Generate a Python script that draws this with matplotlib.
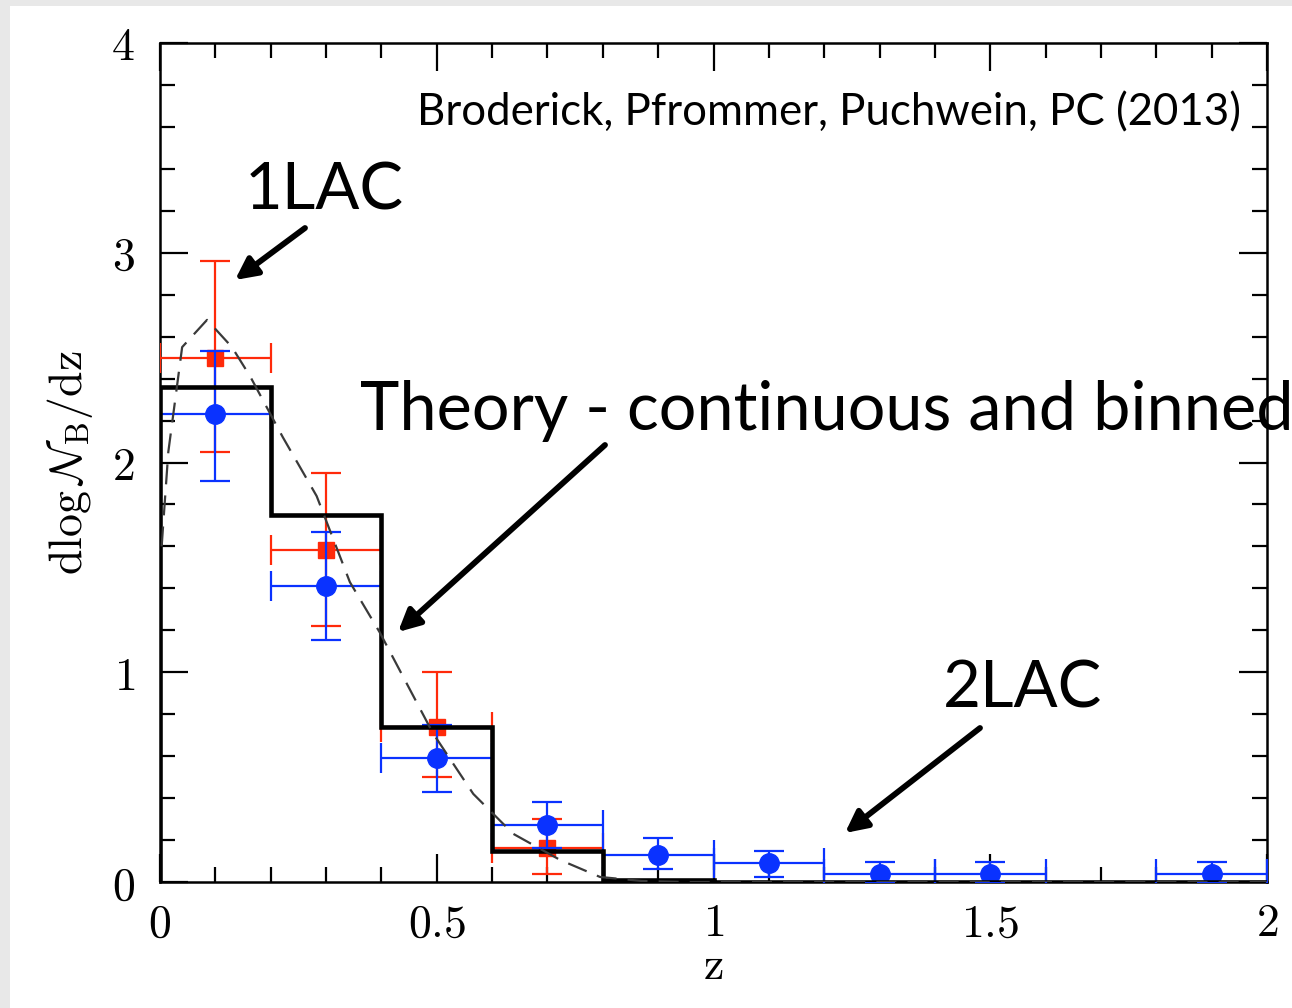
import numpy as np
import matplotlib
matplotlib.use('Agg')
import matplotlib.pyplot as plt
from matplotlib.patches import Rectangle
from matplotlib.ticker import MultipleLocator, FuncFormatter

plt.rcParams['mathtext.fontset'] = 'cm'

# 1LAC (red squares)
z_1lac = [0.1, 0.3, 0.5, 0.7]
n_1lac = [2.50, 1.585, 0.74, 0.16]
lo_1lac = [2.05, 1.22, 0.50, 0.04]
hi_1lac = [2.96, 1.95, 1.00, 0.30]

# 2LAC (blue circles)
z_2lac = [0.1, 0.3, 0.5, 0.7, 0.9, 1.1, 1.3, 1.5, 1.9]
n_2lac = [2.23, 1.41, 0.59, 0.27, 0.13, 0.09, 0.04, 0.04, 0.04]
lo_2lac = [1.91, 1.155, 0.43, 0.16, 0.06, 0.025, 0.0, 0.0, 0.0]
hi_2lac = [2.53, 1.67, 0.75, 0.38, 0.21, 0.15, 0.095, 0.095, 0.095]
zbin_half = 0.1

# binned theory
bin_edges = [0.0, 0.2, 0.4, 0.6, 0.8, 1.0, 2.0]
bin_vals = [2.36, 1.75, 0.74, 0.15, 0.01, 0.0]

# continuous theory (dashed)
z_cont = [0.003, 0.015, 0.04, 0.085, 0.13, 0.163, 0.222, 0.283, 0.343, 0.397,
          0.493, 0.566, 0.638, 0.723, 0.795, 0.87, 0.95, 1.05, 1.2, 1.5, 2.0]
n_cont = [1.60, 2.05, 2.55, 2.68, 2.55, 2.41, 2.12, 1.84, 1.43, 1.19,
          0.71, 0.42, 0.23, 0.105, 0.024, 0.005, 0.0, 0.0, 0.0, 0.0, 0.0]

W, H = 1292, 1008
fig = plt.figure(figsize=(W / 100, H / 100), dpi=100)
fig.patch.set_facecolor('#e8e8e8')
fig.patches.append(Rectangle((10 / W, 0), 1, 1 - 6 / H, transform=fig.transFigure,
                             facecolor='white', edgecolor='none', zorder=-10))

ax = fig.add_axes([160 / W, 1 - 882 / H, (1267 - 160) / W, (882 - 43) / H])

def px(x, y):
    return (x / W, 1 - y / H)

n1 = np.array(n_1lac)
ax.errorbar(z_1lac, n_1lac, xerr=zbin_half,
            yerr=[n1 - np.array(lo_1lac), np.array(hi_1lac) - n1],
            fmt='s', color='#ff2a0a', ms=11, elinewidth=1.6, capsize=11, capthick=1.6, zorder=3)
n2 = np.array(n_2lac)
ax.errorbar(z_2lac, n_2lac, xerr=zbin_half,
            yerr=[n2 - np.array(lo_2lac), np.array(hi_2lac) - n2],
            fmt='o', color='#0a32ff', ms=14, elinewidth=1.6, capsize=11, capthick=1.6, zorder=4)

ax.stairs(bin_vals, bin_edges, color='black', lw=3.3, zorder=5)
ax.plot(z_cont, n_cont, color='#3a3a3a', lw=1.6, dashes=(9, 5), zorder=6)

ax.set_xlim(0, 2)
ax.set_ylim(0, 4)
ax.xaxis.set_major_locator(MultipleLocator(0.5))
ax.xaxis.set_minor_locator(MultipleLocator(0.1))
ax.yaxis.set_major_locator(MultipleLocator(1))
ax.yaxis.set_minor_locator(MultipleLocator(0.2))
ax.xaxis.set_major_formatter(FuncFormatter(lambda v, p: '$%g$' % v))
ax.yaxis.set_major_formatter(FuncFormatter(lambda v, p: '$%g$' % v))
ax.tick_params(which='both', direction='in', top=True, right=True, width=1.6, labelsize=33)
ax.tick_params(which='major', length=20)
ax.tick_params(axis='x', which='major', pad=14)
ax.tick_params(axis='y', which='major', pad=18)
ax.tick_params(which='minor', length=11)
for s in ax.spines.values():
    s.set_linewidth(1.8)

ax.set_xlabel(r'$\mathrm{z}$', fontsize=33, labelpad=-2)
ax.set_ylabel(r'$\mathrm{d}\log\mathcal{N}_\mathrm{B}/\mathrm{dz}$', fontsize=33, labelpad=12)

tf = dict(family=['Lato', 'DejaVu Sans'], color='black')
fig.text(*px(417, 125), 'Broderick, Pfrommer, Puchwein, PC (2013)', fontsize=31.5, **tf)
fig.text(*px(245, 210), '1LAC', fontsize=47, **tf)
fig.text(*px(360, 430), 'Theory - continuous and binned', fontsize=48, **tf)
fig.text(*px(943, 708), '2LAC', fontsize=47, **tf)

aprops = dict(arrowstyle='-|>,head_length=1.3,head_width=0.65', color='black', lw=4.2,
              shrinkA=0, shrinkB=0)
for (x0, y0), (x1, y1) in [((305, 228), (235, 280)), ((605, 445), (398, 632)),
                           ((980, 728), (845, 833))]:
    ax.annotate('', xy=px(x1, y1), xytext=px(x0, y0), xycoords='figure fraction',
                textcoords='figure fraction', arrowprops=aprops)

fig.savefig('out.png', dpi=100, facecolor=fig.get_facecolor())
